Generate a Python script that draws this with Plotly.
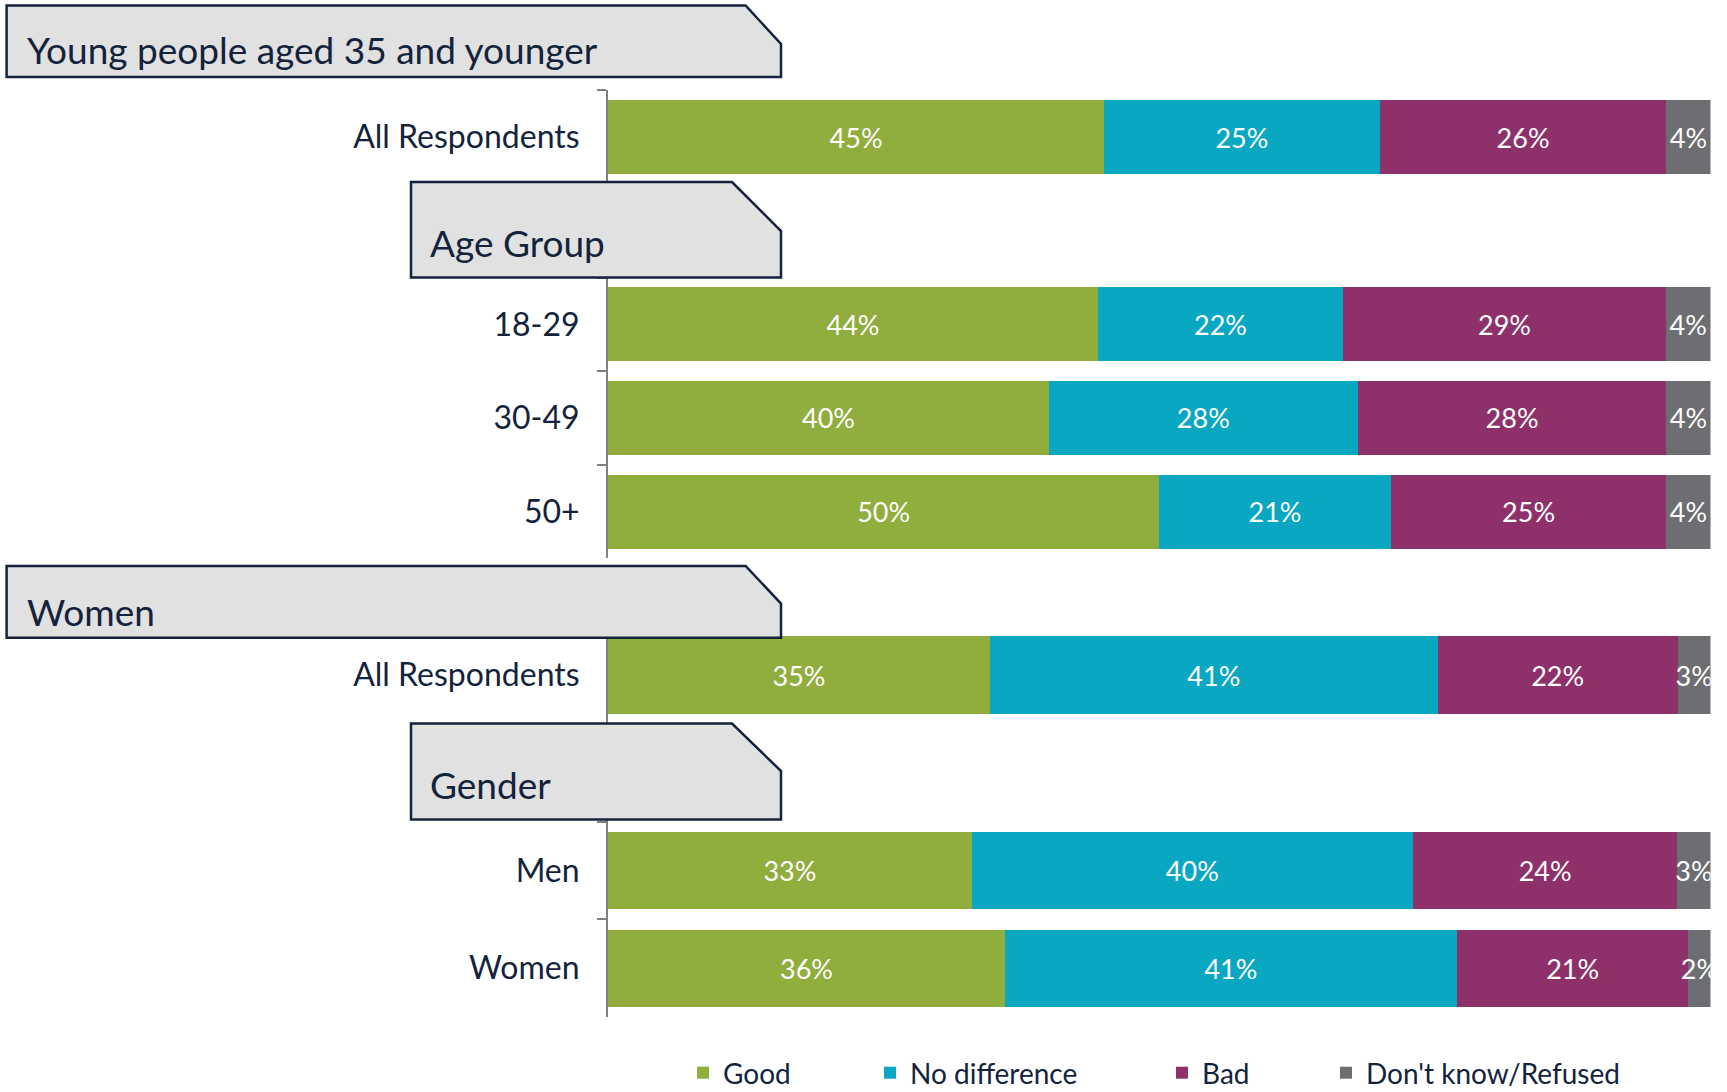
import plotly.graph_objects as go

# ---------------- data ----------------
categories_top = ["All Respondents", " ", "18-29", "30-49", "50+"]
categories_bottom = ["All Respondents", "  ", "Men", "Women"]
series_names = ["Good", "No difference", "Bad", "Don't know/Refused"]

good_top = [45, None, 44, 40, 50]
nodiff_top = [25, None, 22, 28, 21]
bad_top = [26, None, 29, 28, 25]
dk_top = [4, None, 4, 4, 4]

good_bottom = [35, None, 33, 36]
nodiff_bottom = [41, None, 40, 41]
bad_bottom = [22, None, 24, 21]
dk_bottom = [3, None, 3, 2]

section_titles = ["Young people aged 35 and younger", "Age Group", "Women", "Gender"]

# ---------------- style ----------------
W, H = 1727, 1092
colors = ["#8FAE3E", "#09A7C2", "#8E316B", "#6D6E71"]
navy = "#14233C"
font_family = "Lato, 'Open Sans', sans-serif"


def px(x):
    return x / W


def py(y):
    return 1 - y / H


fig = go.Figure()

top_vals = [good_top, nodiff_top, bad_top, dk_top]
bottom_vals = [good_bottom, nodiff_bottom, bad_bottom, dk_bottom]
legends = ["legend", "legend2", "legend3", "legend4"]

for i, name in enumerate(series_names):
    for vals, cats, xa, ya, show in [
        (top_vals[i], categories_top, "x", "y", True),
        (bottom_vals[i], categories_bottom, "x2", "y2", False),
    ]:
        fig.add_trace(go.Bar(
            x=vals, y=cats, orientation="h", name=name,
            marker=dict(color=colors[i], line=dict(width=0)),
            text=[f"{v}%" if v is not None else "" for v in vals],
            texttemplate="%{text}",
            textposition="inside", insidetextanchor="middle",
            constraintext="none", textangle=0,
            insidetextfont=dict(color="white", size=27, family=font_family),
            xaxis=xa, yaxis=ya, showlegend=show, legend=legends[i],
            hoverinfo="skip", cliponaxis=True,
        ))

xdom = [px(608), px(1710.5)]
yaxis_common = dict(
    type="category", autorange="reversed", showline=True, linecolor="#7F7F7F",
    linewidth=2, ticks="outside", tickson="boundaries", ticklen=9,
    tickcolor="#7F7F7F", tickwidth=1.5, showgrid=False, zeroline=False,
    tickfont=dict(size=32, color=navy, family=font_family), ticklabelstandoff=20,
    automargin=False,
)

fig.update_layout(
    width=W, height=H,
    margin=dict(l=0, r=0, t=0, b=0, pad=0, autoexpand=False),
    paper_bgcolor="white", plot_bgcolor="white",
    barmode="stack", barnorm="percent", bargap=0.21,
    font=dict(family=font_family, color=navy),
    xaxis=dict(domain=xdom, range=[0, 100], visible=False, anchor="y"),
    xaxis2=dict(domain=xdom, range=[0, 100], visible=False, anchor="y2"),
    yaxis=dict(domain=[py(558.4), py(90.3)], anchor="x",
               categoryorder="array", categoryarray=categories_top, **yaxis_common),
    yaxis2=dict(domain=[py(1017.1), py(626.2)], anchor="x2",
                categoryorder="array", categoryarray=categories_bottom, **yaxis_common),
)

# legends, one per series
legend_x = [697, 884, 1176, 1340]
for lg, lx in zip(legends, legend_x):
    fig.update_layout({lg: dict(
        x=px(lx - 14), y=py(1073), xanchor="left", yanchor="middle",
        orientation="h", bgcolor="rgba(0,0,0,0)",
        font=dict(size=28, color=navy, family=font_family),
    )})

# section header boxes (pixel geometry -> paper)
boxes = [
    (6.6, 781, 5.5, 77, 745.6, 44),
    (411, 781, 182, 277.5, 732, 231),
    (6.6, 781, 566, 637.7, 745.6, 603.6),
    (411, 781, 723.6, 819.4, 732, 771),
]
text_pos = [(24.5, 49.6), (428, 242), (24.5, 611), (428, 784)]

for (x0, x1, y0, y1, cx, cy), title, (tx, ty) in zip(boxes, section_titles, text_pos):
    path = (f"M{px(x0)},{py(y0)} L{px(cx)},{py(y0)} L{px(x1)},{py(cy)} "
            f"L{px(x1)},{py(y1)} L{px(x0)},{py(y1)} Z")
    fig.add_shape(type="path", path=path, xref="paper", yref="paper",
                  fillcolor="#E1E1E1", line=dict(color=navy, width=2.5), layer="above")
    fig.add_annotation(text=title, x=px(tx), y=py(ty), xref="paper", yref="paper",
                       xanchor="left", yanchor="middle", showarrow=False,
                       font=dict(size=37, color=navy, family=font_family))

post = (
    "document.documentElement.style.margin='0';"
    "document.documentElement.style.overflow='hidden';"
    "document.body.style.margin='0';"
    "document.body.style.overflow='hidden';"
    "var d=document.getElementById('{plot_id}');"
    "d.style.position='absolute';d.style.top='0px';d.style.left='0px';"
)
fig.write_html("out.html", post_script=post, config={"displayModeBar": False})
